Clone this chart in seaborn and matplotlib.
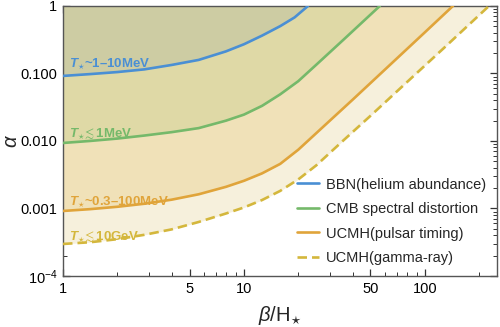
import numpy as np
import pandas as pd
import matplotlib
matplotlib.use("Agg")
import matplotlib.pyplot as plt
import seaborn as sns
from matplotlib.lines import Line2D
from matplotlib.ticker import FixedLocator, FixedFormatter, NullFormatter

# ---- data ----
beta_bbn = [1.0, 1.413, 1.995, 2.818, 3.981, 5.623, 7.943, 10.0, 12.59, 15.85, 19.05, 22.6]
alpha_bbn = [0.0918, 0.0977, 0.1047, 0.1148, 0.1334, 0.1585, 0.2118, 0.2704, 0.3631, 0.5012, 0.6761, 1.0]

beta_cmb = [1.0, 1.413, 1.995, 2.818, 3.981, 5.623, 7.943, 10.0, 12.59, 15.85, 19.95, 25.12, 35.48, 56.36]
alpha_cmb = [0.00933, 0.0100, 0.01084, 0.01202, 0.01349, 0.01549, 0.01995, 0.02455, 0.03311,
             0.04898, 0.07674, 0.1349, 0.3162, 1.0]

beta_pta = [1.0, 1.413, 1.995, 2.818, 3.981, 5.623, 7.943, 10.0, 12.59, 15.85, 19.95, 28.18,
            39.81, 63.1, 100.0, 142.9]
alpha_pta = [9.18e-4, 9.77e-4, 1.059e-3, 1.175e-3, 1.349e-3, 1.622e-3, 2.089e-3, 2.570e-3,
             3.311e-3, 4.571e-3, 7.413e-3, 0.01738, 0.04074, 0.1288, 0.4074, 1.0]

beta_gam = [1.0, 1.413, 1.995, 2.818, 3.981, 5.623, 7.943, 10.0, 12.59, 15.85, 19.95, 25.12,
            35.48, 50.12, 79.43, 125.9, 226.0]
alpha_gam = [2.979e-4, 3.162e-4, 3.508e-4, 4.074e-4, 4.898e-4, 6.310e-4, 8.414e-4, 1.035e-3,
             1.334e-3, 1.820e-3, 2.692e-3, 4.365e-3, 0.01023, 0.02371, 0.07413, 0.2317, 1.0]

legend_labels = ["BBN(helium abundance)", "CMB spectral distortion",
                 "UCMH(pulsar timing)", "UCMH(gamma-ray)"]
region_labels = [r"$\mathbfit{T}_{\star}$~1–10MeV", r"$\mathbfit{T}_{\star}\!{\lesssim}$1MeV",
                 r"$\mathbfit{T}_{\star}$~0.3–100MeV", r"$\mathbfit{T}_{\star}\!{\lesssim}$10GeV"]
label_beta = [1.085, 1.085, 1.085, 1.085]
label_alpha = [0.125, 0.0115, 0.00113, 0.000341]

x_major = [1, 5, 10, 50, 100]
x_major_labels = ["1", "5", "10", "50", "100"]
y_major = [1e-4, 1e-3, 1e-2, 1e-1, 1]
y_major_labels = [r"$10^{-4}$", "0.001", "0.010", "0.100", "1"]

# ---- style ----
sns.set_theme(style="ticks")
plt.rcParams['font.family'] = ['Liberation Sans', 'DejaVu Sans']
plt.rcParams['mathtext.fontset'] = 'custom'
plt.rcParams['mathtext.rm'] = 'Liberation Sans'
plt.rcParams['mathtext.it'] = 'Liberation Sans:italic'
plt.rcParams['mathtext.bf'] = 'Liberation Sans:bold'
try:
    plt.rcParams['mathtext.bfit'] = 'Liberation Sans:italic:bold'
except KeyError:
    pass

line_colors = ["#4a8fd4", "#75b96a", "#e0a43a", "#d4b73c"]
fill_colors = ["#cdcca3", "#dfd9a6", "#f0e1b8", "#f6f0dc"]

fig = plt.figure(figsize=(5, 3.27), dpi=100)
ax = fig.add_axes([0.126, 0.156, 0.868, 0.826])
ax.set_xscale('log')
ax.set_yscale('log')

curves = [(beta_bbn, alpha_bbn), (beta_cmb, alpha_cmb), (beta_pta, alpha_pta), (beta_gam, alpha_gam)]

# fills, back to front
for i in [3, 2, 1, 0]:
    b, a = curves[i]
    ax.fill_between(b, a, 1.0, color=fill_colors[i], lw=0, zorder=1)

lw = 1.9
dash = (0, (3.6, 1.9))
for i, (b, a) in enumerate(curves):
    df = pd.DataFrame({"beta": b, "alpha": a})
    ls = dash if i == 3 else '-'
    sns.lineplot(data=df, x="beta", y="alpha", ax=ax, color=line_colors[i], lw=lw,
                 linestyle=ls, sort=False, estimator=None, zorder=3)

for i in range(4):
    ax.text(label_beta[i], label_alpha[i], region_labels[i], color=line_colors[i],
            fontsize=9.5, fontweight='bold', va='baseline', ha='left', zorder=4)

ax.set_xlim(1, 250)
ax.set_ylim(1e-4, 1)

ax.xaxis.set_major_locator(FixedLocator(x_major))
ax.xaxis.set_major_formatter(FixedFormatter(x_major_labels))
xminor = [v * 10 ** d for d in range(0, 3) for v in range(2, 10)
          if v * 10 ** d not in x_major and v * 10 ** d < 250]
ax.xaxis.set_minor_locator(FixedLocator(xminor))
ax.xaxis.set_minor_formatter(NullFormatter())

ax.yaxis.set_major_locator(FixedLocator(y_major))
ax.yaxis.set_major_formatter(FixedFormatter(y_major_labels))
yminor = [v * 10.0 ** d for d in range(-4, 0) for v in range(2, 10)]
ax.yaxis.set_minor_locator(FixedLocator(yminor))
ax.yaxis.set_minor_formatter(NullFormatter())

ax.tick_params(which='both', direction='in', top=True, right=True, color='#333333',
               labelsize=10.5, labelcolor='black', pad=4)
ax.tick_params(which='major', length=5, width=0.9)
ax.tick_params(which='minor', length=3, width=0.7)
for s in ax.spines.values():
    s.set_color('#555555')
    s.set_linewidth(1.0)

ax.set_xlabel(r"$\beta$/H$_{\star}$", fontsize=14.5, labelpad=6)
ax.set_ylabel(r"$\alpha$", fontsize=14.5)
ax.yaxis.set_label_coords(-0.097, 0.5)

handles = [Line2D([], [], color=line_colors[i], lw=lw,
                  linestyle=(dash if i == 3 else '-')) for i in range(4)]
ax.legend(handles, legend_labels, loc='lower right', frameon=False, fontsize=10.5,
          handlelength=1.5, handletextpad=0.5, labelspacing=0.72, borderaxespad=0.35,
          borderpad=0.4)

fig.savefig("out.png", dpi=100)
